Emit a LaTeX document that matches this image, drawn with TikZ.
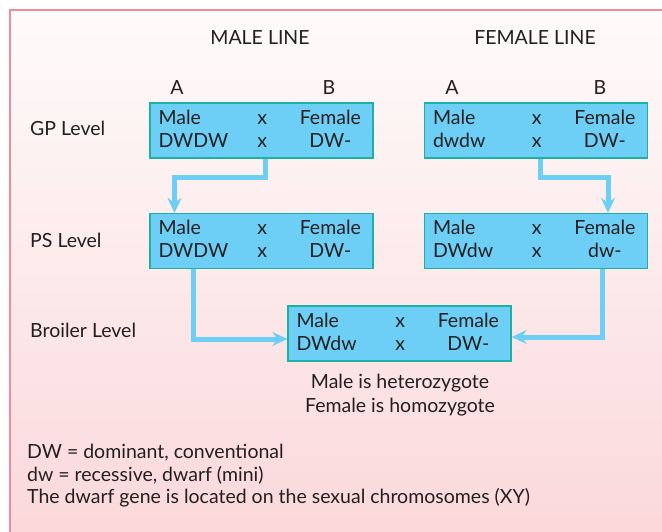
\documentclass[tikz,border=0pt]{standalone}
\usepackage{fontspec}
\setmainfont{Lato}
\usetikzlibrary{arrows.meta,calc}
\definecolor{boxfill}{HTML}{6DCFF6}
\definecolor{boxedge}{HTML}{1DB0A4}
\definecolor{conncol}{HTML}{6DCFF6}
\definecolor{frame}{HTML}{F28C98}
\definecolor{txt}{HTML}{231F20}
\definecolor{bgtop}{HTML}{FEFBFB}
\definecolor{bgbot}{HTML}{FBD8DA}
\begin{document}
\begin{tikzpicture}[x=1pt,y=-1pt,
  every node/.style={text=txt},
  genebox/.style={draw=boxedge,line width=1.3pt,fill=boxfill,minimum width=223pt,minimum height=55pt,inner sep=0pt},
  cell/.style={font=\fontsize{19.5}{22}\selectfont,inner sep=0pt,anchor=base},
  celll/.style={cell,anchor=base west},
  level/.style={font=\fontsize{19.5}{22}\selectfont,anchor=west,inner sep=0pt},
  heading/.style={font=\fontsize{19.5}{22}\selectfont,inner sep=0pt},
  colhead/.style={font=\fontsize{19.5}{22}\selectfont,inner sep=0pt},
  note/.style={font=\fontsize{19.5}{22}\selectfont,inner sep=0pt},
  conn/.style={draw=conncol,line width=5pt,-{Stealth[length=15pt,width=14pt,inset=5pt]}}]
\useasboundingbox (0,0) rectangle (662,532);
\shade[top color=bgtop,bottom color=bgbot] (10,10) rectangle (670,540);
\draw[frame,line width=1.5pt] (10,10) rectangle (680,550);

\node[heading] (ml) at (260,38) {MALE LINE};
\node[heading] (fl) at (535,38) {FEMALE LINE};
\node[colhead] (a1) at (177,88) {A};
\node[colhead] (b1) at (329,88) {B};
\node[colhead] (a2) at (452,88) {A};
\node[colhead] (b2) at (600,88) {B};

\node[level] (gpl) at (30,128) {GP Level};
\node[level] (psl) at (30,240) {PS Level};
\node[level] (brl) at (30,330) {Broiler Level};

% boxes
\node[genebox] (gpL) at (261.5,130.5) {};
\node[genebox] (gpR) at (536,130.5) {};
\node[genebox] (psL) at (261.5,241) {};
\node[genebox] (psR) at (536,241) {};
\node[genebox] (br) at (399.5,333.5) {};

% box contents
\foreach \b/\m/\f in {gpL/DWDW/DW-, gpR/dwdw/DW-, psL/DWDW/DW-, psR/DWdw/dw-, br/DWdw/DW-}{
  \node[celll] (\b-m1) at ($(\b.west)+(9,-6)$) {Male};
  \node[celll] (\b-m2) at ($(\b.west)+(9,17)$) {\m};
  \node[cell] (\b-x1) at ($(\b.west)+(113,-6)$) {x};
  \node[cell] (\b-x2) at ($(\b.west)+(113,17)$) {x};
  \node[cell] (\b-f1) at ($(\b.west)+(181,-6)$) {Female};
  \node[cell] (\b-f2) at ($(\b.west)+(181,17)$) {\f};
}

% connectors
\draw[conn] ($(gpL.south)+(3.5,0)$) -- ++(0,19) -| ($(psL.north)+(-87,0)$);
\draw[conn] ($(gpR.south)+(4,0)$) -- ++(0,19) -| ($(psR.north)+(72,0)$);
\draw[conn] ($(psL.south)+(-68,0)$) |- ($(br.west)+(0,5.5)$);
\draw[conn] ($(psR.south)+(66,0)$) |- ($(br.east)+(0,3.5)$);

\node[note] (het) at (400,383) {Male is heterozygote};
\node[note] (hom) at (400,407) {Female is homozygote};

\node[note,anchor=west] (l1) at (27,453) {DW = dominant, conventional};
\node[note,anchor=west] (l2) at (27,475) {dw = recessive, dwarf (mini)};
\node[note,anchor=west] (l3) at (27,498) {The dwarf gene is located on the sexual chromosomes (XY)};
\end{tikzpicture}
\end{document}
